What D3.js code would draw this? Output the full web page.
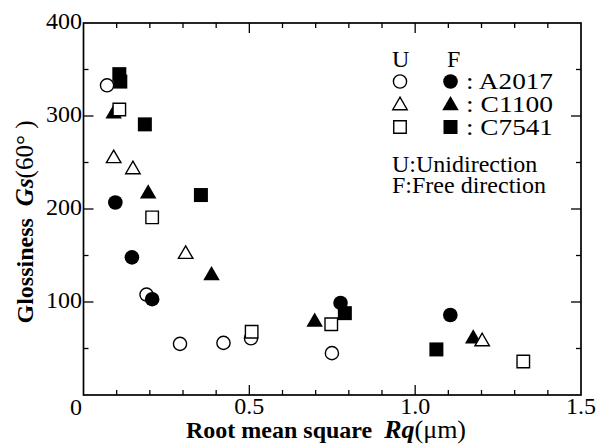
<!DOCTYPE html>
<html>
<head>
<meta charset="utf-8">
<script src="https://cdn.jsdelivr.net/npm/d3@7"></script>
<style>
  html, body { margin: 0; padding: 0; background: #fff; }
  svg { display: block; }
  svg text { font-family: 'Liberation Serif', Tinos, 'Times New Roman', Times, serif; fill: #000; }
</style>
</head>
<body>
<svg id="chart" width="604" height="448"></svg>
<script>
// ---- Data (Rq in µm, Gs(60°)) ----
const a2017U = [[0.071,333],[0.190,108],[0.291,55],[0.422,56],[0.505,61],[0.749,45]];
const a2017F = [[0.096,207],[0.146,148],[0.207,103],[0.775,99],[1.106,86]];
const c1100U = [[0.091,256],[0.149,244],[0.308,153],[1.202,59]];
const c1100F = [[0.091,304],[0.195,218],[0.386,130],[0.697,80],[1.175,62]];
const c7541U = [[0.108,307],[0.207,191],[0.507,68],[0.747,76],[1.326,36]];
const c7541F = [[0.108,345],[0.111,337],[0.185,291],[0.354,215],[0.788,88],[1.064,49]];

const xMajorTicks = [0.5, 1.0, 1.5];
const xTickLabels = ["0.5", "1.0", "1.5"];
const yMajorTicks = [100, 200, 300, 400];
const yTickLabels = ["100", "200", "300", "400"];
const legendNames = [": A2017", ": C1100", ": C7541"];

// ---- Layout ----
const FONT = "'Liberation Serif', Tinos, 'Times New Roman', Times, serif";
const svg = d3.select("#chart");
const L = 83.5, R = 581, T = 23, B = 395;
const x = d3.scaleLinear().domain([0, 1.5]).range([L, R]);
const y = d3.scaleLinear().domain([0, 400]).range([B, T]);

svg.append("rect").attr("width", 604).attr("height", 448).attr("fill", "#fff");

const fontTick = 24;

// minor/major ticks (inward, all four sides)
const xMinor = d3.range(1, 15).map(i => i / 10);
const yMinor = d3.range(1, 8).map(i => i * 50);
const g = svg.append("g").attr("stroke", "#000").attr("stroke-width", 1.3);
xMinor.forEach(v => {
  const len = (Math.abs(v * 2 - Math.round(v * 2)) < 1e-6) ? 10 : 5;
  g.append("line").attr("x1", x(v)).attr("x2", x(v)).attr("y1", B).attr("y2", B - len);
  g.append("line").attr("x1", x(v)).attr("x2", x(v)).attr("y1", T).attr("y2", T + len);
});
yMinor.forEach(v => {
  const len = (v % 100 === 0) ? 10 : 5;
  g.append("line").attr("y1", y(v)).attr("y2", y(v)).attr("x1", L).attr("x2", L + len);
  g.append("line").attr("y1", y(v)).attr("y2", y(v)).attr("x1", R).attr("x2", R - len);
});

// frame
svg.append("rect").attr("x", L).attr("y", T).attr("width", R - L).attr("height", B - T)
  .attr("fill", "none").attr("stroke", "#000").attr("stroke-width", 1.7);

function txt(sel) { return sel.append("text").attr("font-family", FONT); }

// tick labels
xMajorTicks.forEach((v, i) => {
  txt(svg).attr("x", x(v)).attr("y", 414).attr("text-anchor", "middle")
    .attr("font-size", fontTick).text(xTickLabels[i]);
});
txt(svg).attr("x", x(0) - 1.5).attr("y", 415).attr("text-anchor", "end")
  .attr("font-size", fontTick).text("0");
yMajorTicks.forEach((v, i) => {
  txt(svg).attr("x", L - 1.5).attr("y", y(v) + 6).attr("text-anchor", "end")
    .attr("font-size", fontTick).text(yTickLabels[i]);
});

// axis titles
const xt = txt(svg).attr("x", 326).attr("y", 438).attr("text-anchor", "middle")
  .attr("font-size", 24).attr("xml:space", "preserve");
xt.append("tspan").attr("font-weight", "bold").text("Root mean square  ");
xt.append("tspan").attr("font-weight", "bold").attr("font-style", "italic").attr("font-size", 26).text("Rq");
xt.append("tspan").attr("font-size", 26).text("(\u03bcm)");

const yt = txt(svg).attr("transform", "translate(33,222) rotate(-90)")
  .attr("text-anchor", "middle").attr("font-size", 24).attr("xml:space", "preserve");
yt.append("tspan").attr("font-weight", "bold").text("Glossiness  ");
yt.append("tspan").attr("font-weight", "bold").attr("font-style", "italic").attr("font-size", 25).text("Gs");
yt.append("tspan").attr("font-size", 25).text("(60\u00b0 )");

// ---- markers ----
const sym = {
  circle: d3.symbolCircle, triangle: d3.symbolTriangle, square: d3.symbolSquare
};
const sizeFilled = { circle: Math.PI * 7.3 * 7.3, triangle: Math.sqrt(3) / 4 * 16.5 * 16.5, square: 14 * 14 };
const sizeOpen = { circle: Math.PI * 6.6 * 6.6, triangle: Math.sqrt(3) / 4 * 14.5 * 14.5, square: 12.5 * 12.5 };

function drawMark(sel, shape, filled, cx, cy) {
  const path = d3.symbol().type(sym[shape]).size(filled ? sizeFilled[shape] : sizeOpen[shape])();
  const dy = shape === "triangle" ? 1.5 : 0;
  sel.append("path").attr("d", path)
    .attr("transform", `translate(${cx},${cy + dy})`)
    .attr("fill", filled ? "#000" : "#fff")
    .attr("stroke", "#000").attr("stroke-width", filled ? 0 : 1.4);
}

const marks = svg.append("g");
const layers = [
  [a2017U, "circle", false],
  [a2017F, "circle", true],
  [c1100F, "triangle", true],
  [c1100U, "triangle", false],
  [c7541F, "square", true],
  [c7541U, "square", false]
];
layers.forEach(([data, shape, filled]) => {
  data.forEach(d => drawMark(marks, shape, filled, x(d[0]), y(d[1])));
});

// ---- legend ----
const lg = svg.append("g");
const fontLeg = 24;
txt(lg).attr("x", 392).attr("y", 67).attr("font-size", fontLeg).text("U");
txt(lg).attr("x", 447).attr("y", 67).attr("font-size", fontLeg).text("F");
const legShapes = ["circle", "triangle", "square"];
const legY = [81.5, 104, 127];
legShapes.forEach((s, i) => {
  drawMark(lg, s, false, 400, legY[i]);
  drawMark(lg, s, true, 450.5, legY[i]);
  txt(lg).attr("x", 466).attr("y", legY[i] + 7.5).attr("font-size", fontLeg)
    .attr("textLength", 87).attr("lengthAdjust", "spacingAndGlyphs").text(legendNames[i]);
});
txt(lg).attr("x", 392).attr("y", 172).attr("font-size", fontLeg).text("U:Unidirection");
txt(lg).attr("x", 392).attr("y", 193).attr("font-size", fontLeg).text("F:Free direction");
</script>
</body>
</html>
